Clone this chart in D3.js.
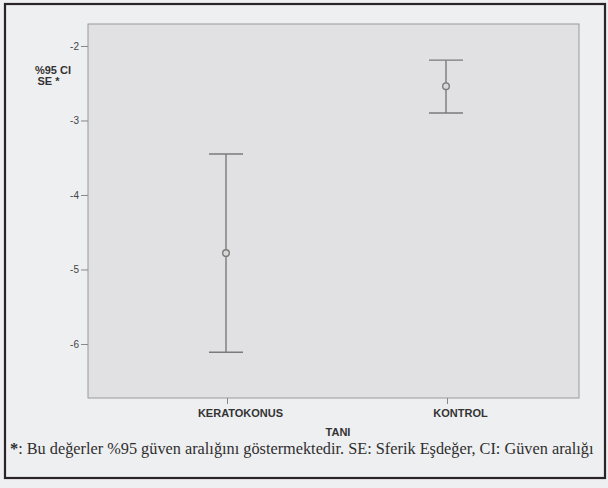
<!DOCTYPE html>
<html><head><meta charset="utf-8">
<script src="https://cdn.jsdelivr.net/npm/d3@7"></script>
<style>body{margin:0;background:#eeeff1;}svg{display:block;}</style>
</head><body>
<svg id="c" width="608" height="488"></svg>
<script>
const categories = ["KERATOKONUS", "KONTROL"];
const means = [-4.78, -2.54];
const upper = [-3.45, -2.19];
const lower = [-6.11, -2.90];
const yTicks = [-2, -3, -4, -5, -6];

const SANS = "'Liberation Sans', Arial, sans-serif";
const svg = d3.select("#c");
const W = 608, H = 488;
svg.append("rect").attr("width", W).attr("height", H).attr("fill", "#eeeff1");
// outer frame
svg.append("rect").attr("x", 5).attr("y", 4).attr("width", 600).attr("height", 474)
  .attr("fill", "none").attr("stroke", "#2a2428").attr("stroke-width", 2.2);

const pl = 88, pt = 24, pr = 579, pb = 398;
const y = d3.scaleLinear().domain([-1.705, -6.725]).range([pt, pb]);
const x = d3.scalePoint().domain(categories).range([227, 447]);

svg.append("rect").attr("x", pl).attr("y", pt).attr("width", pr - pl).attr("height", pb - pt)
  .attr("fill", "#e1e1e3").attr("stroke", "#9a9a9a").attr("stroke-width", 1);

const yAxis = svg.append("g").attr("transform", `translate(${pl},0)`)
  .call(d3.axisLeft(y).tickValues(yTicks).tickFormat(d => String(d)).tickSize(7).tickPadding(2));
yAxis.select(".domain").remove();
yAxis.selectAll("line").attr("stroke", "#888");
yAxis.selectAll("text").attr("fill", "#444").style("font-family", SANS).style("font-size", "10px");

const xAxis = svg.append("g").attr("transform", `translate(0,${pb})`)
  .call(d3.axisBottom(x).tickSize(6).tickPadding(5));
xAxis.select(".domain").remove();
xAxis.selectAll("line").attr("stroke", "#888");
xAxis.selectAll("text").attr("fill", "#333").attr("dx", 13)
  .style("font-family", SANS).style("font-size", "11px").style("font-weight", "bold");

svg.append("text").attr("x", 338).attr("y", 436).attr("text-anchor", "middle")
  .attr("fill", "#333").style("font-family", SANS).style("font-size", "11px").style("font-weight", "bold").text("TANI");

const yl = svg.append("text").attr("fill", "#333").style("font-family", SANS).style("font-size", "11px").style("font-weight", "bold");
yl.append("tspan").attr("x", 53).attr("y", 74).attr("text-anchor", "middle").text("%95 CI");
yl.append("tspan").attr("x", 48.5).attr("y", 85).attr("text-anchor", "middle").text("SE *");

// error bars
const cap = 17;
const g = svg.append("g").attr("stroke", "#7a7a7a").attr("stroke-width", 1.4).attr("fill", "none");
categories.forEach((c, i) => {
  const cx = x(c) - 1;
  g.append("line").attr("x1", cx).attr("x2", cx).attr("y1", y(upper[i])).attr("y2", y(lower[i]));
  g.append("line").attr("x1", cx - cap).attr("x2", cx + cap).attr("y1", y(upper[i])).attr("y2", y(upper[i]));
  g.append("line").attr("x1", cx - cap).attr("x2", cx + cap).attr("y1", y(lower[i])).attr("y2", y(lower[i]));
  g.append("circle").attr("cx", cx).attr("cy", y(means[i])).attr("r", 3.3).attr("fill", "#d8d8d8");
});

const fn = svg.append("text").attr("x", 10).attr("y", 454).attr("fill", "#2e2e2e")
  .style("font-family", "'Liberation Serif', 'Times New Roman', serif").style("font-size", "16.3px");
fn.append("tspan").style("font-weight", "bold").text("*");
fn.append("tspan").text(": Bu değerler %95 güven aralığını göstermektedir. SE: Sferik Eşdeğer, CI: Güven aralığı");
</script>
</body></html>
